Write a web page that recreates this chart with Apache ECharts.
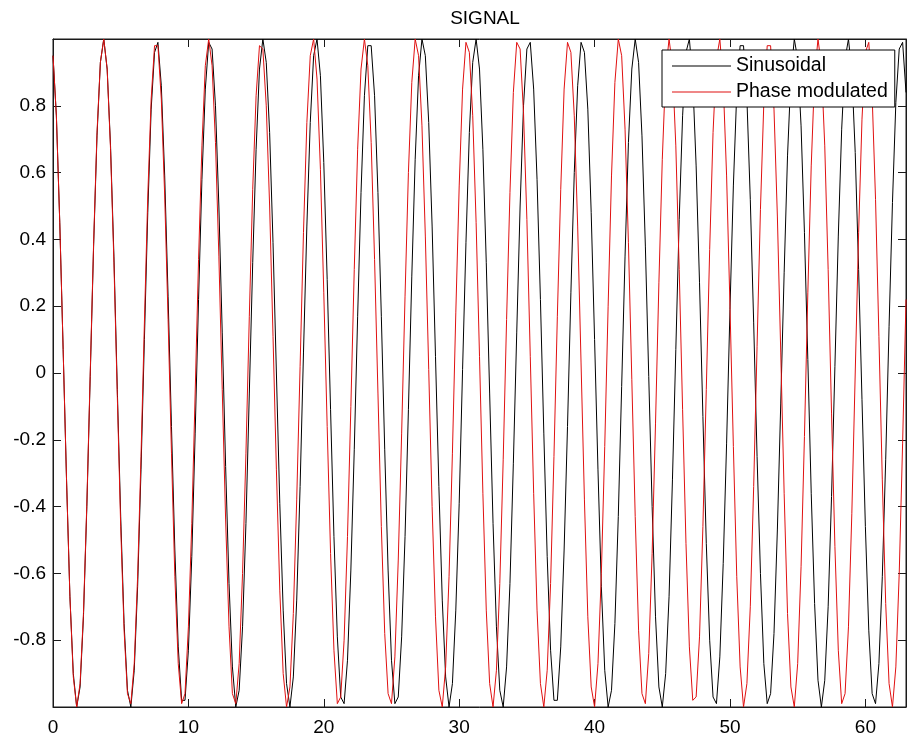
<!DOCTYPE html>
<html>
<head>
<meta charset="utf-8">
<title>SIGNAL</title>
<script src="https://cdn.jsdelivr.net/npm/echarts@6/dist/echarts.min.js"></script>
<style>
  html, body { margin: 0; padding: 0; background: #fff; }
  #chart { width: 913px; height: 737px; }
</style>
</head>
<body>
<div id="chart"></div>
<script>
// Sampled signals, one value every 0.25 time units starting at t = 0.
const timeStep = 0.25;

const sinusoidal = [
  0.95,0.77,0.45,0.07,-0.32,-0.67,-0.90,-1.00,-0.94,-0.73,-0.40,-0.01,0.38,0.71,0.93,1.00,
  0.91,0.68,0.35,-0.05,-0.43,-0.75,-0.95,-1.00,-0.89,-0.64,-0.29,0.10,0.48,0.79,0.96,0.99,
  0.86,0.59,0.23,-0.16,-0.53,-0.82,-0.98,-0.98,-0.83,-0.55,-0.18,0.22,0.58,0.85,0.99,0.97,
  0.80,0.50,0.12,-0.28,-0.63,-0.88,-1.00,-0.95,-0.76,-0.45,-0.06,0.33,0.67,0.91,1.00,0.93,
  0.72,0.39,0.00,-0.39,-0.71,-0.93,-1.00,-0.91,-0.68,-0.34,0.06,0.44,0.75,0.95,1.00,0.89,
  0.63,0.28,-0.11,-0.49,-0.79,-0.97,-0.99,-0.86,-0.59,-0.23,0.17,0.54,0.83,0.98,0.98,0.83,
  0.54,0.17,-0.23,-0.59,-0.86,-0.99,-0.97,-0.79,-0.49,-0.11,0.29,0.64,0.89,1.00,0.95,0.75,
  0.44,0.05,-0.34,-0.68,-0.91,-1.00,-0.93,-0.71,-0.39,0.01,0.39,0.72,0.93,1.00,0.91,0.67,
  0.33,-0.06,-0.45,-0.76,-0.95,-1.00,-0.88,-0.63,-0.27,0.12,0.50,0.80,0.97,0.99,0.85,0.58,
  0.22,-0.18,-0.55,-0.83,-0.98,-0.98,-0.82,-0.53,-0.16,0.24,0.60,0.86,0.99,0.96,0.79,0.48,
  0.10,-0.29,-0.64,-0.89,-1.00,-0.95,-0.75,-0.43,-0.04,0.35,0.69,0.91,1.00,0.93,0.71,0.38,
  -0.01,-0.40,-0.73,-0.94,-1.00,-0.90,-0.67,-0.32,0.07,0.46,0.77,0.96,1.00,0.88,0.62,0.27,
  -0.13,-0.51,-0.80,-0.97,-0.99,-0.85,-0.57,-0.21,0.19,0.56,0.84,0.98,0.98,0.82,0.52,0.15,
  -0.25,-0.60,-0.87,-0.99,-0.96,-0.78,-0.47,-0.09,0.30,0.65,0.89,1.00,0.94,0.74,0.42,0.04,
  -0.36,-0.69,-0.92,-1.00,-0.92,-0.70,-0.37,0.02,0.41,0.73,0.94,1.00,0.90,0.66,0.31,-0.08,
  -0.46,-0.77,-0.96,-0.99,-0.87,-0.61,-0.26,0.14,0.51,0.81,0.97,0.99,0.84
];

const phaseModulated = [
  0.95,0.77,0.45,0.07,-0.32,-0.67,-0.91,-1.00,-0.93,-0.72,-0.39,0.00,0.39,0.72,0.93,1.00,
  0.91,0.67,0.33,-0.07,-0.46,-0.77,-0.96,-0.99,-0.87,-0.61,-0.25,0.15,0.53,0.82,0.98,0.98,
  0.82,0.53,0.16,-0.24,-0.61,-0.87,-0.99,-0.96,-0.76,-0.45,-0.06,0.34,0.68,0.92,1.00,0.92,
  0.69,0.35,-0.05,-0.44,-0.76,-0.96,-0.99,-0.87,-0.60,-0.24,0.17,0.55,0.83,0.98,0.97,0.80,
  0.50,0.11,-0.29,-0.65,-0.90,-1.00,-0.94,-0.72,-0.38,0.02,0.42,0.75,0.95,1.00,0.88,0.61,
  0.24,-0.16,-0.54,-0.83,-0.99,-0.97,-0.80,-0.49,-0.10,0.31,0.67,0.91,1.00,0.92,0.69,0.34,
  -0.06,-0.46,-0.78,-0.96,-0.99,-0.85,-0.56,-0.18,0.23,0.60,0.87,1.00,0.95,0.74,0.41,0.01,
  -0.40,-0.73,-0.95,-1.00,-0.88,-0.61,-0.24,0.18,0.56,0.85,0.99,0.96,0.77,0.45,0.05,-0.36,
  -0.71,-0.93,-1.00,-0.89,-0.63,-0.26,0.16,0.54,0.84,0.99,0.97,0.78,0.46,0.05,-0.36,-0.71,
  -0.93,-1.00,-0.89,-0.63,-0.25,0.17,0.55,0.85,0.99,0.96,0.77,0.44,0.03,-0.38,-0.73,-0.94,
  -1.00,-0.87,-0.60,-0.22,0.20,0.59,0.87,1.00,0.95,0.73,0.39,-0.02,-0.43,-0.77,-0.96,-0.99,
  -0.84,-0.54,-0.15,0.27,0.64,0.90,1.00,0.92,0.68,0.31,-0.11,-0.51,-0.82,-0.98,-0.97,-0.79,
  -0.46,-0.05,0.37,0.72,0.94,1.00,0.87,0.59,0.20,-0.22,-0.61,-0.88,-1.00,-0.93,-0.70,-0.34,
  0.08,0.49,0.81,0.98,0.98,0.79,0.47,0.06,-0.36,-0.72,-0.94,-1.00,-0.87,-0.58,-0.19,0.24,
  0.62,0.89,1.00,0.92,0.68,0.31,-0.12,-0.52,-0.83,-0.99,-0.96,-0.76,-0.42,0.00,0.42,0.76,
  0.96,0.99,0.83,0.52,0.11,-0.32,-0.69,-0.93,-1.00,-0.88,-0.60,-0.21,0.22
];

const seriesNames = ['Sinusoidal', 'Phase modulated'];
const seriesColors = ['#000000', '#e01010'];

const FONT = "'Liberation Sans', Arial, Helvetica, sans-serif";
const INK = '#1a1a1a';

function toPoints(values) {
  return values.map((v, i) => [i * timeStep, v]);
}

const chart = echarts.init(document.getElementById('chart'), null, { renderer: 'canvas' });

const tickStyle = { show: true, inside: true, length: 8, lineStyle: { color: INK, width: 1 } };
const axisLineStyle = { show: true, onZero: false, lineStyle: { color: INK, width: 1 } };

chart.setOption({
  backgroundColor: '#ffffff',
  animation: false,
  title: {
    text: 'SIGNAL',
    left: 480,
    top: 4,
    textAlign: 'center',
    textStyle: { fontFamily: FONT, fontSize: 19, fontWeight: 'normal', color: '#000' }
  },
  legend: {
    orient: 'vertical',
    left: 662,
    top: 50,
    padding: [6, 7, 5, 10],
    icon: 'rect',
    itemWidth: 59,
    itemHeight: 1,
    itemGap: 6,
    backgroundColor: '#ffffff',
    borderColor: '#000',
    borderWidth: 1,
    borderRadius: 0,
    textStyle: { fontFamily: FONT, fontSize: 19.5, color: '#000', lineHeight: 20 },
    data: seriesNames
  },
  grid: {
    left: 53, right: 7, top: 39, bottom: 26,
    show: true, borderColor: INK, borderWidth: 1, backgroundColor: 'transparent'
  },
  xAxis: [
    {
      type: 'value', min: 0, max: 63, interval: 10,
      axisLine: axisLineStyle, axisTick: tickStyle, splitLine: { show: false },
      axisLabel: { fontFamily: FONT, fontSize: 19, color: '#000', margin: 11, showMaxLabel: false }
    },
    {
      type: 'value', position: 'top', min: 0, max: 63, interval: 10,
      axisLine: axisLineStyle, axisTick: tickStyle, splitLine: { show: false },
      axisLabel: { show: false }
    }
  ],
  yAxis: [
    {
      type: 'value', min: -1, max: 1, interval: 0.2,
      axisLine: axisLineStyle, axisTick: tickStyle, splitLine: { show: false },
      axisLabel: {
        fontFamily: FONT, fontSize: 19, color: '#000', margin: 7,
        showMinLabel: false, showMaxLabel: false
      }
    },
    {
      type: 'value', position: 'right', min: -1, max: 1, interval: 0.2,
      axisLine: axisLineStyle, axisTick: tickStyle, splitLine: { show: false },
      axisLabel: { show: false }
    }
  ],
  series: [
    {
      name: seriesNames[0], type: 'line', data: toPoints(sinusoidal),
      symbol: 'none', smooth: false, clip: true,
      lineStyle: { color: seriesColors[0], width: 1 },
      itemStyle: { color: seriesColors[0] }
    },
    {
      name: seriesNames[1], type: 'line', data: toPoints(phaseModulated),
      symbol: 'none', smooth: false, clip: true,
      lineStyle: { color: seriesColors[1], width: 1 },
      itemStyle: { color: seriesColors[1] }
    }
  ]
});
</script>
</body>
</html>
